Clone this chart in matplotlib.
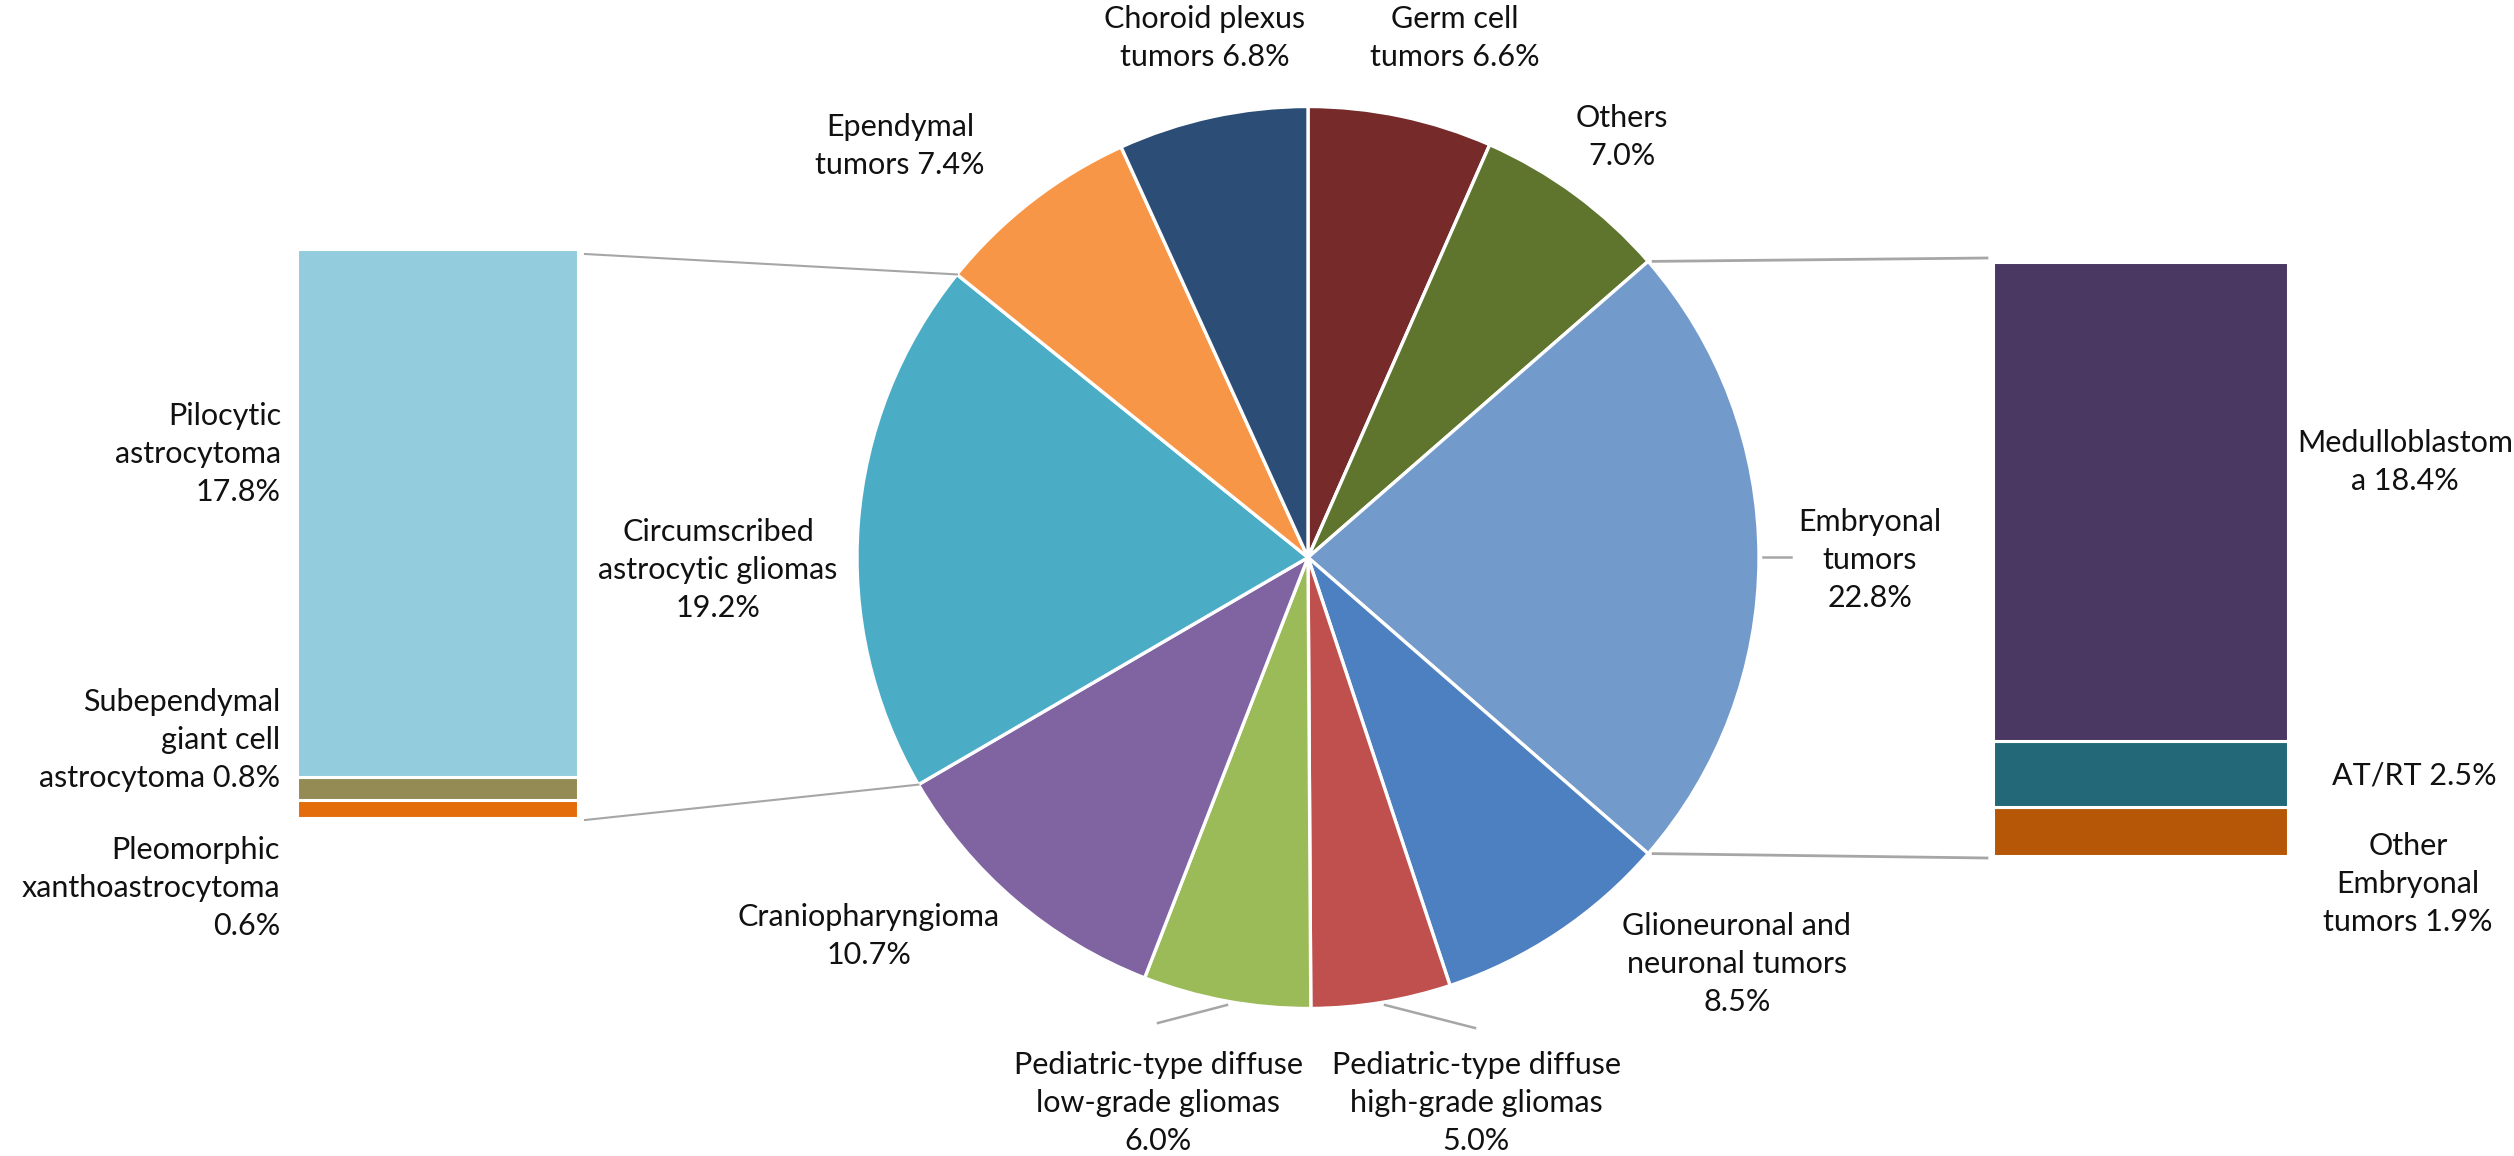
import numpy as np
import matplotlib
matplotlib.use("Agg")
import matplotlib.pyplot as plt
from matplotlib import font_manager

# ---------------- data ----------------
pie_labels = ["Germ cell\ntumors 6.6%", "Others\n7.0%", "Embryonal\ntumors\n22.8%",
              "Glioneuronal and\nneuronal tumors\n8.5%",
              "Pediatric-type diffuse\nhigh-grade gliomas\n5.0%",
              "Pediatric-type diffuse\nlow-grade gliomas\n6.0%",
              "Craniopharyngioma\n10.7%", "Circumscribed\nastrocytic gliomas\n19.2%",
              "Ependymal\ntumors 7.4%", "Choroid plexus\ntumors 6.8%"]
pie_values = [6.6, 7.0, 22.8, 8.5, 5.0, 6.0, 10.7, 19.2, 7.4, 6.8]
pie_colors = ["#772A2A", "#5F752E", "#729ACA", "#4D80C0", "#C0504D", "#9BBB59",
              "#8064A2", "#4BACC6", "#F79646", "#2C4D75"]

left_labels = ["Pleomorphic\nxanthoastrocytoma\n0.6%", "Subependymal\ngiant cell\nastrocytoma 0.8%",
               "Pilocytic\nastrocytoma\n17.8%"]
left_values = [0.6, 0.8, 17.8]
left_colors = ["#E46C0A", "#948A54", "#93CDDD"]

right_labels = ["Other\nEmbryonal\ntumors 1.9%", "AT/RT 2.5%", "Medulloblastom\na 18.4%"]
right_values = [1.9, 2.5, 18.4]
right_colors = ["#B65708", "#226878", "#4B3862"]

# ---------------- fonts ----------------
names = {f.name for f in font_manager.fontManager.ttflist}
fam = "Lato" if "Lato" in names else "Liberation Sans"
plt.rcParams["font.family"] = [fam, "DejaVu Sans"]
FS = 22
LS = 1.43

W, H = 2514, 1156
fig = plt.figure(figsize=(W / 100, H / 100), dpi=100)
ax = fig.add_axes([0, 0, 1, 1])

def Y(y):
    return H - y

cx, cy, R = 1308, Y(557.5), 451
wedges, _ = ax.pie(pie_values, colors=pie_colors, startangle=90, counterclock=False,
                   center=(cx, cy), radius=R,
                   wedgeprops=dict(edgecolor="white", linewidth=2.4))
ax.set_xlim(0, W)
ax.set_ylim(0, H)
ax.set_aspect("auto")
ax.axis("off")

# boundary angles
cum = np.concatenate([[0], np.cumsum(pie_values)])
ang = 90 - 360 * cum / 100.0

def on_circle(a):
    r = np.deg2rad(a)
    return cx + R * np.cos(r), cy + R * np.sin(r)

# pie labels (layout positions)
pie_label_pos = [(1455, 38), (1622, 137), (1870, 560), (1737, 964), (1476, 1103),
                 (1158, 1103), (869, 936), (718, 570), (900, 146), (1205, 38)]
for lab, (x, y) in zip(pie_labels, pie_label_pos):
    ax.text(x, Y(y), lab, ha="center", va="center", fontsize=FS, linespacing=LS,
            color="#111111")

# leader lines
lc = "#A6A6A6"
ax.plot([1763, 1791], [Y(557), Y(557)], color=lc, lw=1.8)
ax.plot([1158, 1227], [Y(1023), Y(1005)], color=lc, lw=1.8)
ax.plot([1385, 1475], [Y(1005), Y(1028)], color=lc, lw=1.8)

# ---------------- bars ----------------
def stacked_bar(rect, values, colors):
    bax = fig.add_axes(rect)
    bottom = 0
    for v, c in zip(values, colors):
        bax.bar(0, v, bottom=bottom, width=1.0, color=c, edgecolor="white", linewidth=2.2)
        bottom += v
    bax.set_xlim(-0.5, 0.5)
    bax.set_ylim(0, sum(values))
    bax.axis("off")
    return bax

lx0, lx1, ly0, ly1 = 297, 578, 249, 818
lax = stacked_bar([lx0 / W, Y(ly1) / H, (lx1 - lx0) / W, (ly1 - ly0) / H], left_values, left_colors)
rx0, rx1, ry0, ry1 = 1993, 2288, 262, 856
rax = stacked_bar([rx0 / W, Y(ry1) / H, (rx1 - rx0) / W, (ry1 - ry0) / H], right_values, right_colors)

# connectors
p_top = on_circle(ang[8])   # circumscribed / ependymal
p_bot = on_circle(ang[7])   # circumscribed / craniopharyngioma
ax.plot([585, p_top[0]], [Y(254), p_top[1]], color=lc, lw=1.5)
ax.plot([585, p_bot[0]], [Y(820), p_bot[1]], color=lc, lw=1.5)
e_top = on_circle(ang[2])
e_bot = on_circle(ang[3])
ax.plot([e_top[0] + 5, 1987], [e_top[1], Y(258)], color=lc, lw=2.0)
ax.plot([e_bot[0] + 5, 1987], [e_bot[1], Y(858)], color=lc, lw=2.0)

# bar labels (layout positions)
left_pos = [(280, 888), (280, 740), (281, 454)]
for lab, (x, y) in zip(left_labels, left_pos):
    ax.text(x, Y(y), lab, ha="right", va="center", fontsize=FS, linespacing=LS,
            multialignment="right", color="#111111")
right_pos = [(2408, 884), (2414, 776), (2405, 462)]
for lab, (x, y) in zip(right_labels, right_pos):
    ax.text(x, Y(y), lab, ha="center", va="center", fontsize=FS, linespacing=LS,
            color="#111111")

fig.savefig("out.png", dpi=100, facecolor="white")
